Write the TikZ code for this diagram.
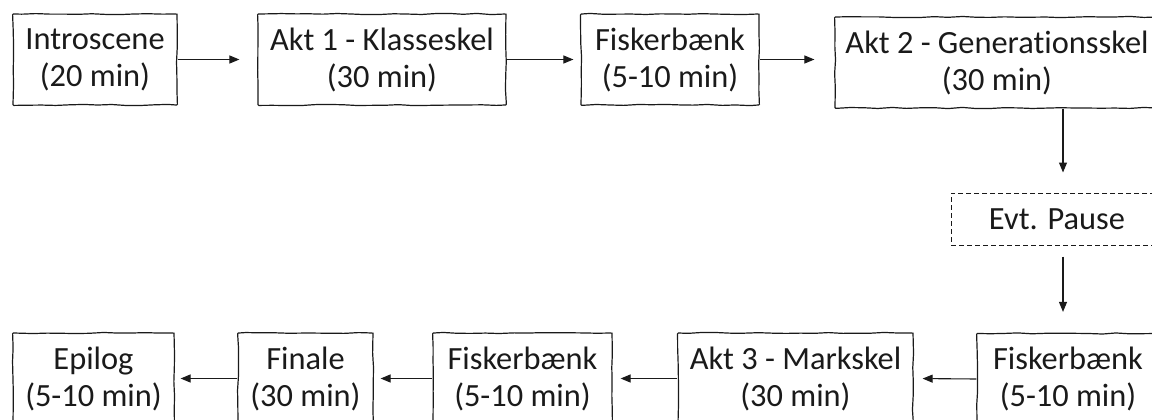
\documentclass[tikz,border=0pt]{standalone}
\usepackage{fontspec}
\setmainfont[Ligatures=NoCommon]{Carlito}
\usetikzlibrary{arrows.meta,decorations.pathmorphing,calc}
\definecolor{ink}{HTML}{1A1A1A}
\begin{document}
\begin{tikzpicture}[x=1pt,y=-1pt,
  sketch/.style={draw=ink, line width=1.2pt, decorate,
    decoration={random steps,segment length=14pt,amplitude=0.6pt},
    rounded corners=0.8pt},
  box/.style={sketch, inner sep=0pt, align=center, text=ink,
    font=\fontsize{32.4}{37}\selectfont},
  pausebox/.style={draw=ink, line width=1pt, dash pattern=on 5pt off 3pt,
    inner sep=0pt, align=center, text=ink, font=\fontsize{32.4}{37}\selectfont},
  arr/.style={draw=ink, line width=1.1pt, -{Triangle[length=10pt,width=8pt]}}]
\pgfmathsetseed{7}
\useasboundingbox (0,0) rectangle (1152,420);
\clip (0,0) rectangle (1152,420);
% top row
\node[box, minimum width=164pt, minimum height=91pt] (intro) at (95,59.5) {Introscene\\(20 min)};
\node[box, minimum width=248pt, minimum height=91pt] (akt1) at (382,59.5) {Akt 1 - Klasseskel\\(30 min)};
\node[box, minimum width=178pt, minimum height=91pt] (fisk1) at (670,59.5) {Fiskerbænk\\(5-10 min)};
\node[box, minimum width=324pt, minimum height=91pt] (akt2) at (997,62.5) {Akt 2 - Generationsskel\\(30 min)};
% pause
\node[pausebox, minimum width=212pt, minimum height=52pt] (pause) at (1057,219) {Evt. Pause};
% bottom row
\node[box, minimum width=182pt, minimum height=91pt] (fisk2) at (1068,379) {Fiskerbænk\\(5-10 min)};
\node[box, minimum width=235pt, minimum height=91pt] (akt3) at (795.5,378.5) {Akt 3 - Markskel\\(30 min)};
\node[box, minimum width=179pt, minimum height=91pt] (fisk3) at (522.5,378.5) {Fiskerbænk\\(5-10 min)};
\node[box, minimum width=135pt, minimum height=91pt] (finale) at (305.5,378.5) {Finale\\(30 min)};
\node[box, minimum width=161pt, minimum height=91pt] (epilog) at (93.5,378.5) {Epilog\\(5-10 min)};
\coordinate (col) at (1063,0);
% connectors
\draw[arr, shorten >=18pt] (intro.east) -- (akt1.west);
\draw[arr, shorten >=7pt] (akt1.east) -- (fisk1.west);
\draw[arr, shorten >=20pt] (fisk1.east) -- (fisk1.east -| akt2.west);
\draw[arr, shorten >=20pt] (akt2.south -| col) -- (pause.north -| col);
\draw[arr, shorten <=11pt, shorten >=21pt] (pause.south -| col) -- (fisk2.north -| col);
\draw[arr, shorten >=9pt] (fisk2.west) -- (akt3.east);
\draw[arr, shorten >=8pt] (akt3.west) -- (fisk3.east);
\draw[arr, shorten >=7pt] (fisk3.west) -- (finale.east);
\draw[arr, shorten >=6pt] (finale.west) -- (epilog.east);
\end{tikzpicture}
\end{document}
